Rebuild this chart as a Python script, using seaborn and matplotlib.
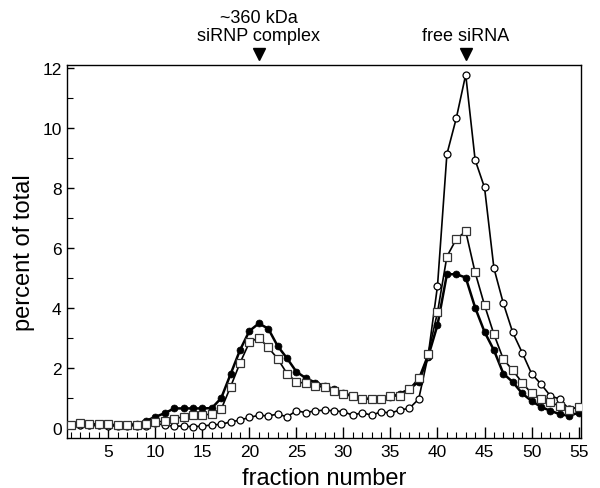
import numpy as np
import pandas as pd
import matplotlib
matplotlib.use("Agg")
import matplotlib.pyplot as plt
import matplotlib.transforms as mtransforms
import seaborn as sns

# %%
# values, one per fraction (1..55)
fractions = list(range(1, 56))

filled_circles = [0.10, 0.10, 0.10, 0.10, 0.10, 0.10, 0.10, 0.14, 0.24, 0.38,
                  0.50, 0.66, 0.66, 0.66, 0.66, 0.67, 1.00, 1.80, 2.60, 3.24,
                  3.49, 3.32, 2.74, 2.33, 1.88, 1.67, 1.52, 1.41, 1.30, 1.18,
                  1.06, 0.98, 0.98, 0.96, 1.03, 1.15, 1.30, 1.55, 2.38, 3.44,
                  5.13, 5.13, 5.02, 4.02, 3.21, 2.60, 1.82, 1.54, 1.16, 0.91,
                  0.71, 0.58, 0.47, 0.41, 0.52]

open_squares = [0.12, 0.19, 0.15, 0.15, 0.13, 0.12, 0.12, 0.12, 0.15, 0.20,
                0.24, 0.32, 0.38, 0.43, 0.43, 0.48, 0.63, 1.38, 2.17, 2.86,
                3.02, 2.69, 2.32, 1.82, 1.54, 1.50, 1.41, 1.36, 1.24, 1.13,
                1.06, 0.99, 0.99, 0.99, 1.08, 1.08, 1.30, 1.66, 2.47, 3.86,
                5.72, 6.30, 6.56, 5.19, 4.10, 3.13, 2.30, 1.93, 1.52, 1.16,
                0.97, 0.86, 0.74, 0.61, 0.71]

open_circles = [0.10, 0.10, 0.10, 0.10, 0.08, 0.08, 0.08, 0.08, 0.09, 0.17,
                0.10, 0.07, 0.07, 0.05, 0.07, 0.11, 0.13, 0.21, 0.27, 0.36,
                0.43, 0.41, 0.47, 0.38, 0.58, 0.52, 0.58, 0.60, 0.58, 0.55,
                0.43, 0.52, 0.43, 0.55, 0.50, 0.61, 0.66, 0.97, 2.41, 4.74,
                9.13, 10.33, 11.78, 8.94, 8.02, 5.33, 4.16, 3.19, 2.52, 1.82,
                1.47, 1.08, 0.97, 0.63, 0.71]

peak_labels = ["~360 kDa\nsiRNP complex", "free siRNA"]
peak_fractions = [21, 43]

# %%
sns.set_style("ticks")
plt.rcParams["font.family"] = ["Liberation Sans", "DejaVu Sans"]
plt.rcParams.update({"text.color": "black", "axes.labelcolor": "black",
                     "xtick.color": "black", "ytick.color": "black",
                     "axes.edgecolor": "black"})

df = pd.DataFrame({"fraction": fractions,
                   "filled": filled_circles,
                   "square": open_squares,
                   "open": open_circles})

fig = plt.figure(figsize=(6.0, 4.89), dpi=100)
ax = fig.add_axes([0.112, 0.102, 0.857, 0.763])

sns.lineplot(data=df, x="fraction", y="open", ax=ax, color="black", lw=1.2,
             marker="o", markersize=5, markerfacecolor="white",
             markeredgecolor="black", markeredgewidth=0.9, zorder=3)
sns.lineplot(data=df, x="fraction", y="square", ax=ax, color="black", lw=1.2,
             marker="s", markersize=5.5, markerfacecolor="white",
             markeredgecolor="#333333", markeredgewidth=0.9, zorder=4)
sns.lineplot(data=df, x="fraction", y="filled", ax=ax, color="black", lw=1.8,
             marker="o", markersize=5, markerfacecolor="black",
             markeredgecolor="black", markeredgewidth=0.5, zorder=2)

ax.set_xlim(0.63, 55.3)
ax.set_ylim(-0.33, 12.1)
ax.set_xticks(range(5, 56, 5))
ax.set_xticks(range(1, 56), minor=True)
ax.set_yticks(range(0, 13, 2))
ax.set_yticks(range(1, 13, 2), minor=True)
ax.tick_params(which="major", direction="in", length=8, width=1,
               labelsize=12.5, pad=4)
ax.tick_params(which="minor", direction="in", length=4, width=0.8)
ax.tick_params(axis="y", which="major", length=5)
ax.tick_params(axis="y", which="minor", length=4)

for s in ax.spines.values():
    s.set_linewidth(1.0)
    s.set_visible(True)

ax.set_xlabel("fraction number", fontsize=17, labelpad=6)
ax.set_ylabel("percent of total", fontsize=17, labelpad=5)

# peak annotations above the frame
trans = mtransforms.blended_transform_factory(ax.transData, ax.transAxes)
for lab, fx in zip(peak_labels, peak_fractions):
    ax.text(fx, 1.068, lab, transform=trans, ha="center", va="baseline",
            fontsize=13, linespacing=1.05)
    ax.plot([fx], [1.03], transform=trans, marker="v", markersize=9,
            color="black", clip_on=False)

fig.savefig("out.png", dpi=100)
